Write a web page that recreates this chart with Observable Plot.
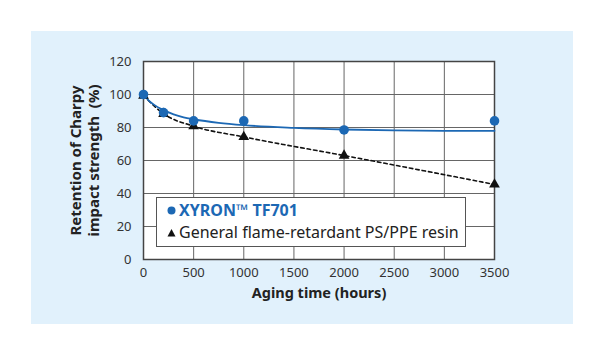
<!DOCTYPE html>
<html><head><meta charset="utf-8">
<script src="https://cdn.jsdelivr.net/npm/d3@7"></script>
<script src="https://cdn.jsdelivr.net/npm/@observablehq/plot@0.6"></script>
<style>
html,body{margin:0;padding:0;background:#fff;}
#wrap{position:relative;width:600px;height:355px;overflow:hidden;font-family:"Noto Sans",sans-serif;}
#panel{position:absolute;left:31px;top:31px;width:542px;height:293px;background:#e1f1fc;}
#chart{position:absolute;left:0;top:0;}
#legend{position:absolute;left:156px;top:197px;width:310px;height:50px;background:#fff;border:1.5px solid #555;box-sizing:border-box;padding:2px 0 0 10px;font-size:16px;line-height:21.5px;color:#222;}
#legend .row{display:flex;align-items:center;white-space:nowrap;}
#legend svg{margin-right:3px;}
#legend .b{color:#1c68b4;font-weight:700;}
</style></head>
<body>
<div id="wrap"><div id="panel"></div><div id="chart"></div>
<div id="legend"></div></div>
<script>
const hours = [0, 200, 500, 1000, 2000, 3500];
const xyron = [100, 89, 84, 84, 78.5, 84];
const general = [99.3, 88.3, 80.8, 74.3, 63, 45.5];
const fitHours = [0, 50, 100, 200, 300, 400, 500, 750, 1000, 1500, 2000, 2500, 3000, 3500];
const fitXyron = [100, 96.5, 94, 90.5, 88, 86.2, 85, 82.8, 81.4, 79.8, 78.8, 78.2, 78, 78];
const xTicks = [0, 500, 1000, 1500, 2000, 2500, 3000, 3500];
const yTicks = [0, 20, 40, 60, 80, 100, 120];
const seriesNames = ["XYRON™ TF701", "General flame-retardant PS/PPE resin"];
const blue = "#1c68b4";

const pts1 = hours.map((h, i) => ({h, v: xyron[i]}));
const pts2 = hours.map((h, i) => ({h, v: general[i]}));
const fit = fitHours.map((h, i) => ({h, v: fitXyron[i]}));

const chart = Plot.plot({
  width: 600, height: 355,
  marginLeft: 143, marginRight: 106, marginTop: 61, marginBottom: 96,
  style: {background: "transparent", fontFamily: "Noto Sans, sans-serif", fontSize: "13px", color: "#333"},
  x: {domain: [0, 3500], ticks: xTicks},
  y: {domain: [0, 120], ticks: yTicks},
  marks: [
    Plot.frame({fill: "white"}),
    Plot.gridX(xTicks, {stroke: "#666", strokeOpacity: 1, strokeWidth: 1}),
    Plot.gridY(yTicks, {stroke: "#666", strokeOpacity: 1, strokeWidth: 1}),
    Plot.frame({stroke: "#444", strokeWidth: 1.5}),
    Plot.axisX({ticks: xTicks, tickSize: 0, tickPadding: 8, label: null, fontSize: 13, tickFormat: d => String(d)}),
    Plot.axisY({ticks: yTicks, tickSize: 0, tickPadding: 12, label: null, fontSize: 13, tickFormat: d => String(d)}),
    Plot.line(pts2, {x: "h", y: "v", stroke: "#111", strokeWidth: 1.6, strokeDasharray: "3.5,3", curve: "monotone-x"}),
    Plot.line(fit, {x: "h", y: "v", stroke: blue, strokeWidth: 1.8, curve: "monotone-x"}),
    Plot.dot(pts2, {x: "h", y: "v", symbol: "triangle", r: 4, fill: "#111", stroke: "none"}),
    Plot.dot(pts1, {x: "h", y: "v", r: 4.8, fill: blue, stroke: "none"}),
    Plot.text(["Aging time (hours)"], {frameAnchor: "bottom", dy: 38, fontWeight: 700, fontSize: 14.5, fill: "#222"}),
    Plot.text(["Retention of Charpy\nimpact strength  (%)"], {frameAnchor: "left", textAnchor: "middle", dx: -59, rotate: -90, fontWeight: 700, fontSize: 15, fill: "#222", lineHeight: 1.2})
  ]
});
document.getElementById("chart").appendChild(chart);

const lg = document.getElementById("legend");
lg.innerHTML =
  `<div class="row b"><svg width="9" height="9"><circle cx="4.5" cy="4.5" r="4" fill="${blue}"/></svg>${seriesNames[0]}</div>` +
  `<div class="row"><svg width="9" height="9"><polygon points="4.5,1 8.5,8.5 0.5,8.5" fill="#111"/></svg>${seriesNames[1]}</div>`;
</script>
</body></html>
